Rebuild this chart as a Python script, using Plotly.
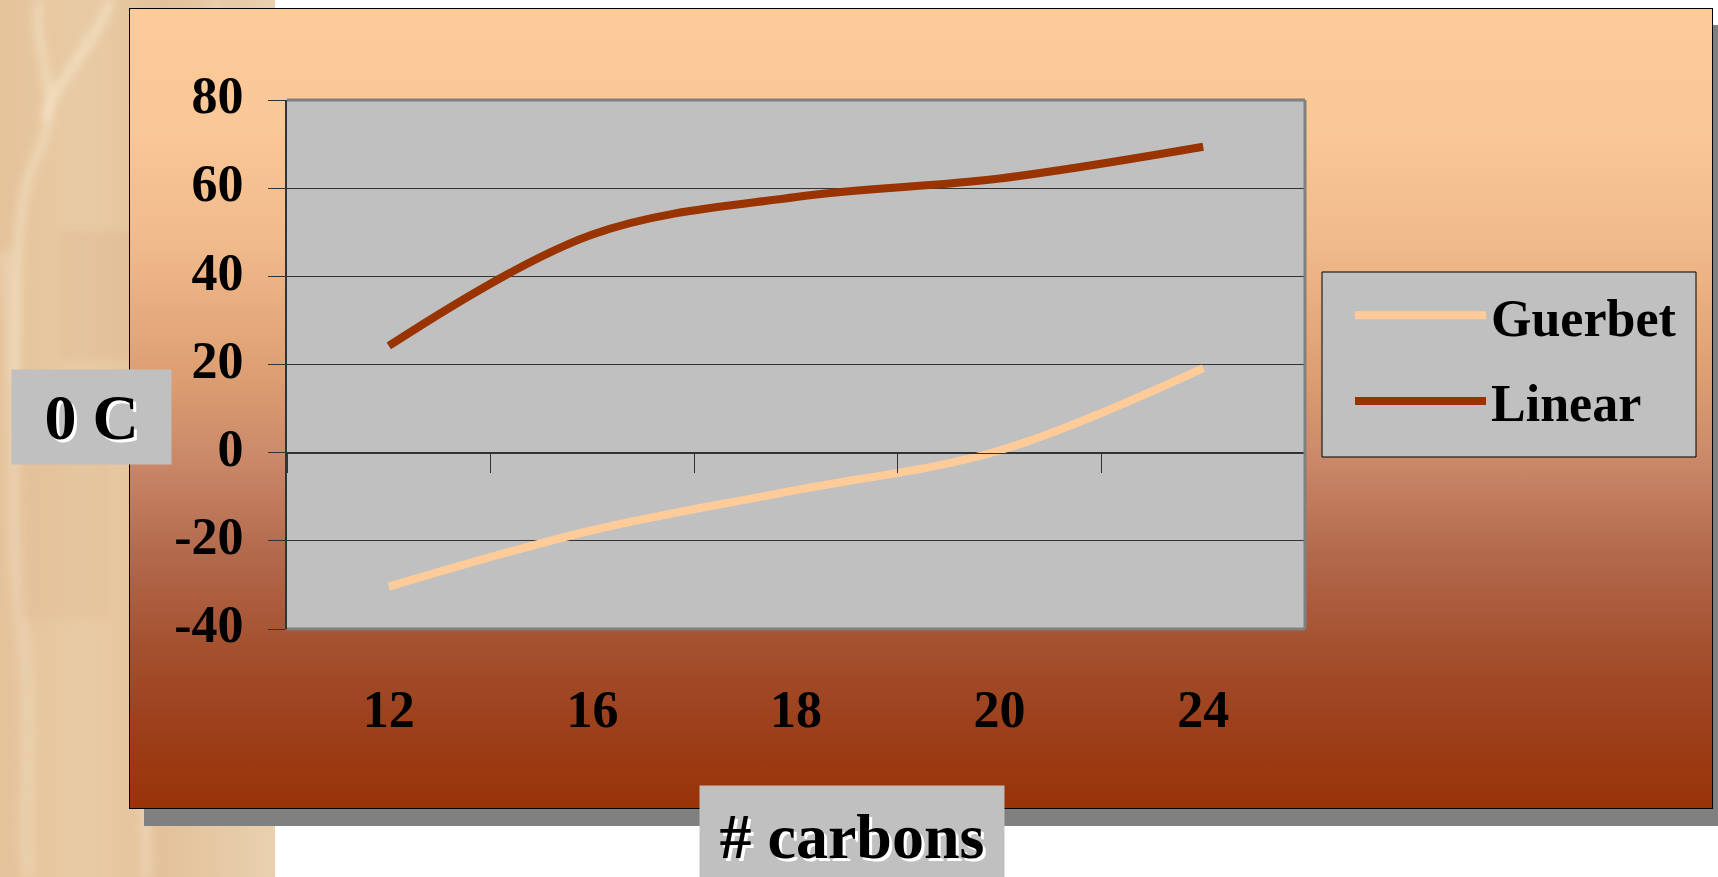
import base64
import plotly.graph_objects as go

# chart values
carbons = ["12", "16", "18", "20", "24"]
guerbet = [-30.4, -17.6, -8.5, 0.5, 19.2]
linear = [24.2, 49.5, 58.0, 62.2, 69.4]
series_names = ["Guerbet", "Linear"]
series_colors = ["#FFCC99", "#993300"]
y_ticks = [-40, -20, 0, 20, 40, 60, 80]

W, H = 1718, 877
FONT = "Liberation Serif, Times New Roman, serif"


def px_x(v):
    return v / W


def px_y(v):
    return 1 - v / H


# slide background: textured beige strip, shadowed chart box with vertical gradient
svg = f"""<svg xmlns="http://www.w3.org/2000/svg" width="{W}" height="{H}" viewBox="0 0 {W} {H}" preserveAspectRatio="none">
<defs>
<linearGradient id="g" x1="0" y1="0" x2="0" y2="1">
<stop offset="0" stop-color="#FCCB9A"/>
<stop offset="0.15" stop-color="#FAC796"/>
<stop offset="0.30" stop-color="#F0B98A"/>
<stop offset="0.45" stop-color="#DEA073"/>
<stop offset="0.57" stop-color="#C98768"/>
<stop offset="0.68" stop-color="#B36A4C"/>
<stop offset="0.80" stop-color="#A4502F"/>
<stop offset="0.90" stop-color="#9C3F1A"/>
<stop offset="1" stop-color="#993308"/>
</linearGradient>
<linearGradient id="b" x1="0" y1="0" x2="1" y2="0">
<stop offset="0" stop-color="#E4C29A"/>
<stop offset="0.3" stop-color="#E8CBA5"/>
<stop offset="0.6" stop-color="#E3C29B"/>
<stop offset="1" stop-color="#E9D0AF"/>
</linearGradient>
<filter id="f" x="-20%" y="-20%" width="140%" height="140%"><feGaussianBlur stdDeviation="4"/></filter>
</defs>
<rect x="0" y="0" width="275" height="{H}" fill="url(#b)"/>
<g filter="url(#f)" fill="none">
<path d="M40,0 C30,60 70,90 35,160 C10,220 20,300 15,380" stroke="#F5E2C6" stroke-width="9" opacity="0.6"/>
<path d="M110,0 C100,40 60,70 45,120" stroke="#F8E6CC" stroke-width="10" opacity="0.6"/>
<path d="M5,250 C20,400 5,520 25,650 C35,760 20,820 30,877" stroke="#F0DABD" stroke-width="14" opacity="0.5"/>
<path d="M150,520 C140,620 165,700 150,780 C140,830 150,860 145,877" stroke="#F4E0C5" stroke-width="10" opacity="0.5"/>
<path d="M215,0 C230,120 210,260 230,400" stroke="#EDD6B8" stroke-width="16" opacity="0.5"/>
<rect x="60" y="230" width="110" height="130" fill="#DDB690" opacity="0.4"/>
<rect x="20" y="420" width="90" height="200" fill="#DFB991" opacity="0.35"/>
</g>
<rect x="144" y="25" width="1600" height="801" fill="#808080"/>
<rect x="129.5" y="8.5" width="1583" height="800" fill="url(#g)" stroke="#000000" stroke-width="1"/>
</svg>"""
bg_src = "data:image/svg+xml;base64," + base64.b64encode(svg.encode()).decode()

fig = go.Figure()
for name, vals, col in zip(series_names, [guerbet, linear], series_colors):
    fig.add_trace(go.Scatter(
        x=carbons, y=vals, name=name, mode="lines",
        line=dict(color=col, width=8, shape="spline"),
        legendgroup=name, hoverinfo="skip",
    ))

y_bot, y_top = px_y(629), px_y(100)
zero_pos = y_bot + (y_top - y_bot) * (0 - y_ticks[0]) / (y_ticks[-1] - y_ticks[0])

tick_font = dict(family=FONT, size=52, color="black", weight="bold")

fig.update_layout(
    width=W, height=H,
    margin=dict(l=0, r=0, t=0, b=0, autoexpand=False),
    paper_bgcolor="white",
    plot_bgcolor="#C0C0C0",
    images=[dict(source=bg_src, xref="paper", yref="paper", x=0, y=1,
                 sizex=1, sizey=1, xanchor="left", yanchor="top",
                 sizing="stretch", layer="below")],
    xaxis=dict(
        type="category", categoryorder="array", categoryarray=carbons,
        range=[-0.5, len(carbons) - 0.5],
        domain=[px_x(287), px_x(1305)],
        anchor="free", position=zero_pos,
        showgrid=False, zeroline=False,
        showline=True, linecolor="#333333", linewidth=1,
        ticks="outside", tickson="boundaries", ticklen=19,
        tickcolor="#333333", tickwidth=1,
        tickfont=tick_font, ticklabelstandoff=211,
    ),
    yaxis=dict(
        range=[y_ticks[0], y_ticks[-1]], tickvals=y_ticks,
        ticktext=[str(v) for v in y_ticks],
        domain=[y_bot, y_top], anchor="x",
        showgrid=True, gridcolor="#333333", gridwidth=1,
        zeroline=False,
        showline=True, linecolor="#333333", linewidth=2,
        ticks="outside", ticklen=17, tickcolor="#333333", tickwidth=1,
        tickfont=tick_font, ticklabelstandoff=14, ticklabelshift=-5,
    ),
    legend=dict(
        x=px_x(1350), y=px_y(275), xanchor="left", yanchor="top",
        bgcolor="rgba(0,0,0,0)", borderwidth=0,
        font=tick_font, itemwidth=131, tracegroupgap=15,
        traceorder="grouped",
    ),
    showlegend=True,
)

# legend box
fig.add_shape(type="rect", xref="paper", yref="paper",
              x0=px_x(1322), x1=px_x(1696), y0=px_y(457), y1=px_y(272),
              fillcolor="#C0C0C0", line=dict(color="black", width=1),
              layer="below")

# gray plot area (drawn above the slide image) and excel-style border
fig.add_shape(type="rect", xref="x domain", yref="y domain",
              x0=0, y0=0, x1=1, y1=1, fillcolor="#C0C0C0",
              line=dict(width=0), layer="below")
for x0, y0, x1, y1 in [(0, 1, 1, 1), (1, 0, 1, 1), (0, 0, 1, 0)]:
    fig.add_shape(type="line", xref="x domain", yref="y domain",
                  x0=x0, y0=y0, x1=x1, y1=y1,
                  line=dict(color="#808080", width=3))

title_font = dict(family=FONT, size=64, color="black", weight="bold",
                  shadow="3px 3px 0px #FFFFFF")
fig.add_annotation(text="0 C", xref="paper", yref="paper",
                   x=px_x(11), y=px_y(369), xanchor="left", yanchor="top",
                   width=159, height=94, bgcolor="#C0C0C0", borderpad=0,
                   showarrow=False, font=title_font)
fig.add_annotation(text="# carbons", xref="paper", yref="paper",
                   x=px_x(699), y=px_y(785), xanchor="left", yanchor="top",
                   width=304, height=100, bgcolor="#C0C0C0", borderpad=0,
                   showarrow=False, font=title_font)

fig.write_html(
    "out.html",
    config={"displayModeBar": False},
    post_script="document.body.style.margin='0';document.body.style.overflow='hidden';",
)
